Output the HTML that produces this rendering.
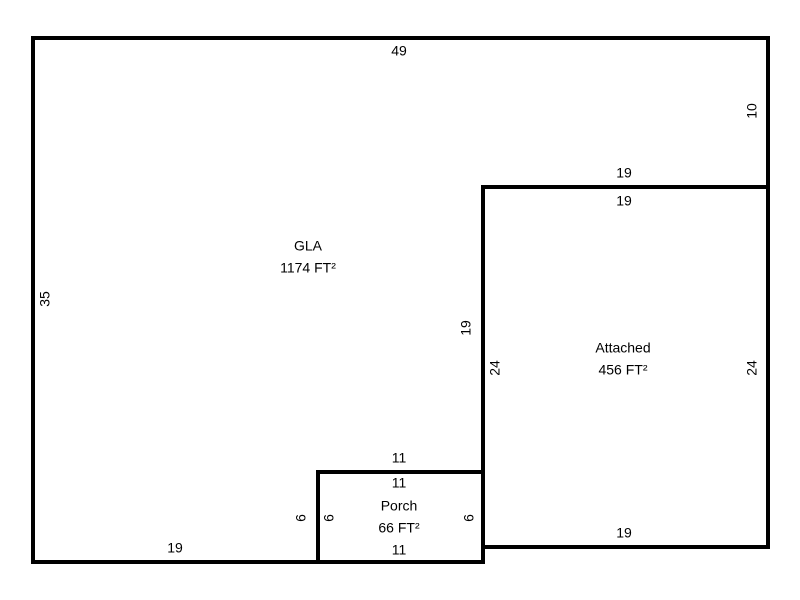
<!DOCTYPE html>
<html><head><meta charset="utf-8"><style>
html,body{margin:0;padding:0;background:#fff;}
svg{display:block}
text{font-family:"Liberation Sans",Arial,sans-serif;font-size:14px;fill:#000;text-anchor:middle;dominant-baseline:middle}
</style></head><body>
<svg width="800" height="600" viewBox="0 0 800 600" xmlns="http://www.w3.org/2000/svg">
<g fill="none" stroke="#000" stroke-width="4" stroke-linecap="square">
<polyline points="318,562 33,562 33,38 768,38 768,187"/>
<rect x="483" y="187" width="285" height="360"/>
<rect x="318" y="472" width="165" height="90"/>
</g>
<text x="399" y="52">49</text>
<text x="308" y="247">GLA</text>
<text x="308" y="269">1174 FT²</text>
<text x="624" y="174">19</text>
<text x="624" y="202">19</text>
<text x="623" y="349">Attached</text>
<text x="623" y="371">456 FT²</text>
<text x="624" y="534">19</text>
<text x="399" y="459">11</text>
<text x="399" y="484">11</text>
<text x="399" y="507">Porch</text>
<text x="399" y="529">66 FT²</text>
<text x="399" y="551">11</text>
<text x="175" y="549">19</text>
<text transform="translate(46,299) rotate(-90)">35</text>
<text transform="translate(753,111) rotate(-90)">10</text>
<text transform="translate(467,328) rotate(-90)">19</text>
<text transform="translate(496,368) rotate(-90)">24</text>
<text transform="translate(753,368) rotate(-90)">24</text>
<text transform="translate(302,518) rotate(-90)">6</text>
<text transform="translate(330,518) rotate(-90)">6</text>
<text transform="translate(470,518) rotate(-90)">6</text>
</svg>
</body></html>
